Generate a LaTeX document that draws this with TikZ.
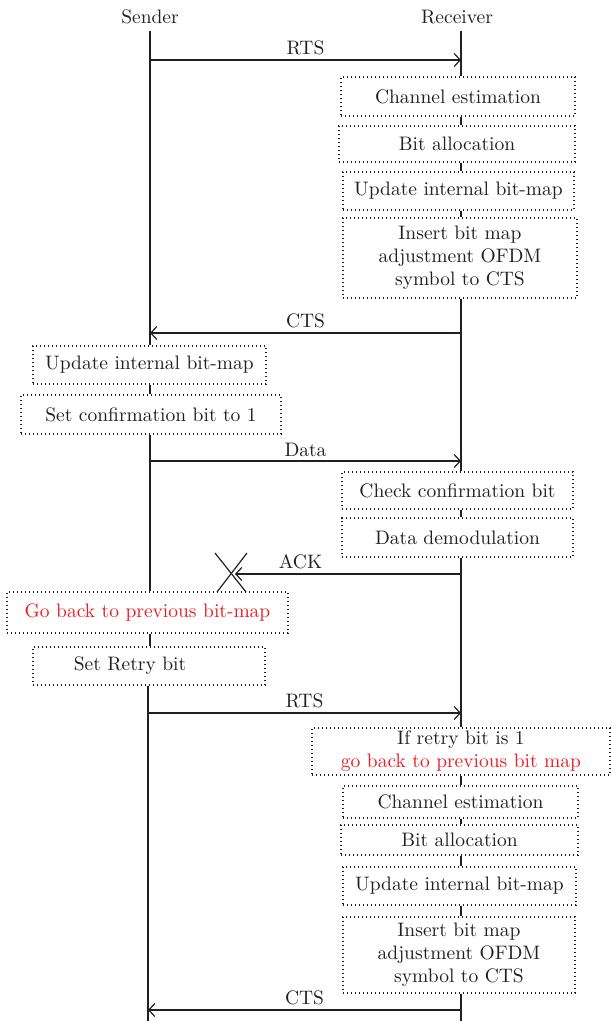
\documentclass[tikz,border=0pt]{standalone}
\usepackage{fontspec}
\setmainfont{lmroman10-regular}[Extension=.otf]
\usetikzlibrary{arrows.meta}
\definecolor{ink}{HTML}{231F20}
\definecolor{alert}{HTML}{ED1C24}
\tikzset{
  txt/.style={font=\fontsize{19.5}{23}\selectfont, text=ink},
  box/.style={txt, draw=ink, line width=1.2pt, dash pattern=on 1.2pt off 2.8pt,
              fill=white, inner sep=0pt, align=center},
  life/.style={draw=ink, line width=1.3pt},
  msg/.style={draw=ink, line width=1.3pt, -{Straight Barb[length=6pt,width=13pt,line width=1.2pt]}},
  msglabel/.style={txt, above, inner sep=4pt},
}
\begin{document}
\begin{tikzpicture}[x=1pt, y=-1pt]
\useasboundingbox (0,0) rectangle (612,1021);

% column heads
\node[txt] (sender) at (150,17) {Sender};
\node[txt] (receiver) at (457,17) {Receiver};

% lifeline ends
\coordinate (stop) at (150,31);
\coordinate (rtop) at (461,31);
\coordinate (sbot) at (148,1021);
\coordinate (rbot) at (461,1021);

% receiver side steps (first exchange)
\node[box, minimum width=234pt, minimum height=39pt] (r1) at (458,96.5) {Channel estimation};
\node[box, minimum width=236pt, minimum height=36pt] (r2) at (457,144) {Bit allocation};
\node[box, minimum width=231pt, minimum height=38pt] (r3) at (458.5,191) {Update internal bit-map};
\node[box, minimum width=234pt, minimum height=80pt] (r4) at (460,258) {Insert bit map\\adjustment OFDM\\symbol to CTS};

% sender side steps
\node[box, minimum width=233pt, minimum height=38pt] (s1) at (149.5,365) {Update internal bit-map};
\node[box, minimum width=260pt, minimum height=39pt] (s2) at (151,414.5) {Set confirmation bit to 1};

% receiver checks data
\node[box, minimum width=231pt, minimum height=37pt] (r5) at (457.5,490.5) {Check confirmation bit};
\node[box, minimum width=231pt, minimum height=39pt] (r6) at (457.5,537.5) {Data demodulation};

% sender recovery
\node[box, minimum width=281pt, minimum height=41pt] (s3) at (147.5,612.5) {\color{alert}Go back to previous bit-map};
\node[box, minimum width=232pt, minimum height=38pt] (s4) at (149,666) {Set Retry bit\hspace*{38pt}};

% receiver side steps (second exchange)
\node[box, minimum width=298pt, minimum height=47pt] (r7) at (461,751.5) {If retry bit is 1\\\color{alert}go back to previous bit map};
\node[box, minimum width=235pt, minimum height=32pt] (r8) at (460.5,802) {Channel estimation};
\node[box, minimum width=237pt, minimum height=30pt] (r9) at (459.5,840) {Bit allocation};
\node[box, minimum width=233pt, minimum height=38pt] (r10) at (459.5,886) {Update internal bit-map};
\node[box, minimum width=232pt, minimum height=76pt] (r11) at (459,955) {Insert bit map\\adjustment OFDM\\symbol to CTS};

% receiver lifeline
\begin{scope}[life]
\draw (rtop) -- (rtop |- r1.north);
\draw (rtop |- r1.south) -- (rtop |- r2.north);
\draw (rtop |- r2.south) -- (rtop |- r3.north);
\draw (rtop |- r3.south) -- (rtop |- r4.north);
\draw (rtop |- r4.south) -- (rtop |- r5.north);
\draw (rtop |- r5.south) -- (rtop |- r6.north);
\draw (rtop |- r6.south) -- (rtop |- r7.north);
\draw (rtop |- r7.south) -- (rtop |- r8.north);
\draw (rtop |- r8.south) -- (rtop |- r9.north);
\draw (rtop |- r9.south) -- (rtop |- r10.north);
\draw (rtop |- r10.south) -- (rtop |- r11.north);
\draw (rtop |- r11.south) -- (rbot);
% sender lifeline
\draw (stop) -- (stop |- s1.north);
\draw (stop |- s1.south) -- (stop |- s2.north);
\draw (stop |- s2.south) -- (stop |- s3.north);
\draw (stop |- s3.south) -- (stop |- s4.north);
\draw (sbot |- s4.south) -- (sbot);
\end{scope}

% message end points
\coordinate (rts1s) at (150,60);   \coordinate (rts1r) at (461,60);
\coordinate (cts1r) at (461,333);  \coordinate (cts1s) at (150,333);
\coordinate (datas) at (150,461);  \coordinate (datar) at (461,461);
\coordinate (ackr)  at (461,574);  \coordinate (acklost) at (235,574);
\coordinate (rts2s) at (148,713);  \coordinate (rts2r) at (461,713);
\coordinate (cts2r) at (461,1010); \coordinate (cts2s) at (148,1010);

% messages
\draw[msg] (rts1s) -- node[msglabel] {RTS} (rts1r);
\draw[msg] (cts1r) -- node[msglabel] {CTS} (cts1s);
\draw[msg] (datas) -- node[msglabel] {Data} (datar);
\draw[msg] (ackr) -- node[msglabel, pos=0.71] {ACK} (acklost);
\draw[msg] (rts2s) -- node[msglabel] {RTS} (rts2r);
\draw[msg] (cts2r) -- node[msglabel] {CTS} (cts2s);

% lost acknowledgement
\coordinate (lost) at (231,573);
\draw[life, line width=1.2pt] ([shift={(-16,-20)}]lost) -- ([shift={(15,19)}]lost);
\draw[life, line width=1.2pt] ([shift={(16,-20)}]lost) -- ([shift={(-14,19)}]lost);
\end{tikzpicture}
\end{document}
